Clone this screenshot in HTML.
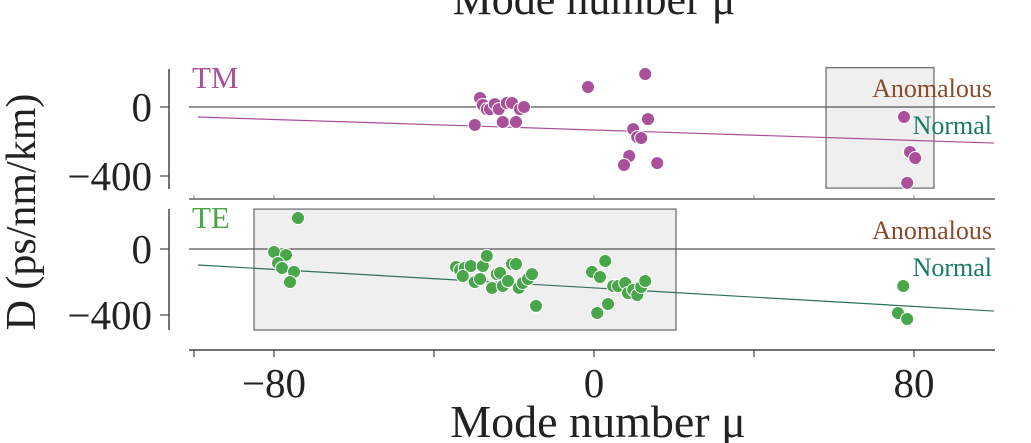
<!DOCTYPE html>
<html><head><meta charset="utf-8"><style>
body{margin:0;background:#fff;}
svg{display:block;font-family:"Liberation Serif","DejaVu Serif",serif;}
</style></head><body>
<svg id="c" width="1031" height="443" viewBox="0 0 1031 443">
<text x="594" y="14" font-size="44" text-anchor="middle" fill="#222">Mode number μ</text>
<text transform="translate(35,212) rotate(-90)" font-size="42" text-anchor="middle" fill="#222">D (ps/nm/km)</text>
<text x="598" y="437" font-size="46" text-anchor="middle" fill="#222">Mode number μ</text>
<g id="g"></g>
</svg>
<script>
const tmX=[-28.5,-29.8,-27.8,-26.8,-26,-24.8,-23.8,-22.8,-21.8,-20.5,-19.5,-18.5,-17.5,-1.5,12.8,13.5,9.8,10.8,11.8,8.8,7.5,15.8,77.5,79,80.3,78.3];
const tmY=[52,-104,12,-12,-12,17,-12,-87,23,23,-87,-12,0,116,191,-70,-128,-174,-180,-284,-336,-325,-58,-261,-296,-440];
const teX=[-74,-80,-77,-79,-78,-75,-76,-34.5,-33.5,-32.3,-30.8,-32.8,-29.8,-28.5,-27.8,-26.8,-25.5,-24.3,-23.5,-22.8,-21.5,-20.5,-19.5,-18.8,-17.8,-16.5,-15.5,-14.5,2.8,-0.5,1.5,4.8,6,7.8,8.5,9.8,10.8,11.8,12.8,3.5,0.8,77.3,76,78.3];
const teY=[188,-18,-36,-85,-115,-139,-200,-109,-127,-115,-103,-164,-200,-182,-103,-42,-236,-152,-145,-224,-194,-91,-91,-236,-206,-182,-152,-345,-73,-139,-170,-224,-224,-206,-267,-248,-279,-230,-194,-333,-388,-224,-388,-424];
const tmFit=[-99,-58,100,-209];
const teFit=[-99,-97,100,-376];
const tmBox=[58,85,228,-470];
const teBox=[-85,20.5,242,-491];
const xTicks=[-80,0,80];
const yTicks=[0,-400];
const xMinor=[-100,-80,-40,0,40,80];
const NS='http://www.w3.org/2000/svg';
const g=document.getElementById('g');
const X=v=>594+v*4.0;
function mk(t,a,p){const e=document.createElementNS(NS,t);for(const k in a)e.setAttribute(k,a[k]);(p||g).appendChild(e);return e;}
function panel(name,y0,sc,top,bot,xs,ys,fit,box,col,fitCol,label){
  const Y=v=>y0-v*sc;
  const b=mk('rect',{x:X(box[0]),y:Y(box[2]),width:X(box[1])-X(box[0]),height:Y(box[3])-Y(box[2]),fill:'#efefef',stroke:'#666','stroke-width':1.2});
  
  
  const ax=mk('line',{x1:169,x2:169,y1:top,y2:bot,stroke:'#444','stroke-width':1.5});
  
  
  yTicks.forEach(t=>{
    mk('line',{x1:160,x2:169,y1:Y(t),y2:Y(t),stroke:'#444','stroke-width':1.2});
    const tx=mk('text',{x:152,y:Y(t)+14,'font-size':41,'text-anchor':'end',fill:'#222'});
    tx.textContent=t===0?'0':'−'+Math.abs(t);
    
    
  });
  const z=mk('line',{x1:189,x2:995,y1:Y(0),y2:Y(0),stroke:'#555','stroke-width':1.2});
  
  
  const f=mk('line',{x1:X(fit[0]),y1:Y(fit[1]),x2:X(fit[2]),y2:Y(fit[3]),stroke:fitCol,'stroke-width':1.2});
  
  
  xs.forEach((x,i)=>{
    const c=mk('circle',{cx:X(x),cy:Y(ys[i]),r:6.5,fill:col,stroke:'#fff','stroke-width':1});
    
    
  });
  const l=mk('text',{x:192,y:top+19,'font-size':31,fill:col});
  l.textContent=label;
  
  
  const an=mk('text',{x:992,y:Y(0)-10,'font-size':26,'text-anchor':'end',fill:'#8b4a2b'});
  an.textContent='Anomalous';
  
  
  const no=mk('text',{x:992,y:Y(0)+27,'font-size':26,'text-anchor':'end',fill:'#1a7a6a'});
  no.textContent='Normal';
  
  
}
const sep=mk('line',{x1:189,x2:995,y1:199,y2:199,stroke:'#444','stroke-width':1.2});


xMinor.forEach(t=>mk('line',{x1:X(t),x2:X(t),y1:195,y2:199,stroke:'#888','stroke-width':1}));
panel('tm',107,0.1725,69,189,tmX,tmY,tmFit,tmBox,'#a8519a','#a8519a','TM');
panel('te',249,0.165,209,330,teX,teY,teFit,teBox,'#4aa64a','#2f6f5f','TE');
const bx=mk('line',{x1:189,x2:995,y1:350,y2:350,stroke:'#444','stroke-width':1.5});


xMinor.forEach(t=>mk('line',{x1:X(t),x2:X(t),y1:350,y2:357,stroke:'#444','stroke-width':1.2}));
xTicks.forEach(t=>{
  const tx=mk('text',{x:X(t),y:397,'font-size':41,'text-anchor':'middle',fill:'#222'});
  tx.textContent=t<0?'−'+Math.abs(t):String(t);
  
  
});
</script>
</body></html>
